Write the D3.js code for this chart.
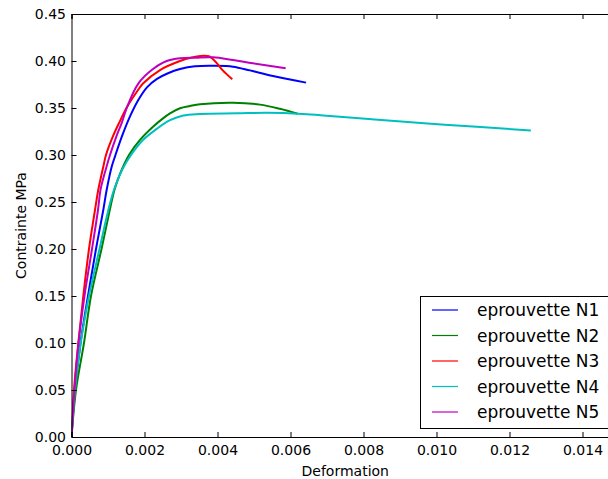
<!DOCTYPE html>
<html><head><meta charset="utf-8">
<script src="https://cdn.jsdelivr.net/npm/d3@7"></script>
<style>body{margin:0;background:#fff}svg{display:block}text{font-family:"DejaVu Sans",sans-serif}</style>
</head><body>
<svg id="c" width="608" height="479"></svg>
<script>
const seriesNames = ["eprouvette N1","eprouvette N2","eprouvette N3","eprouvette N4","eprouvette N5"];
const seriesColors = ["#0000ff","#008000","#ff0000","#00bfbf","#bf00bf"];
const xTicks = [0,0.002,0.004,0.006,0.008,0.010,0.012,0.014];
const yTicks = [0,0.05,0.10,0.15,0.20,0.25,0.30,0.35,0.40,0.45];

const n1x = [0,0.000096,0.000247,0.000452,0.000671,0.000871,0.000964,0.001101,0.001205,0.001384,0.001603,0.00183,0.002068,0.002342,0.002644,0.002973,0.003384,0.003932,0.004425,0.00489,0.005521,0.006425];
const n1y = [0,0.05,0.10,0.15,0.20,0.2415,0.263,0.2875,0.30,0.32,0.341,0.3585,0.372,0.381,0.387,0.3915,0.3945,0.395,0.394,0.390,0.384,0.377];

const n2x = [0,0.000123,0.000342,0.000534,0.000822,0.001041,0.001178,0.001329,0.001575,0.001877,0.002233,0.002507,0.002699,0.002973,0.003247,0.003521,0.004425,0.005164,0.005712,0.006197];
const n2y = [0,0.05,0.10,0.15,0.20,0.24,0.263,0.28,0.30,0.316,0.330,0.339,0.3443,0.3497,0.3521,0.354,0.3556,0.3536,0.3491,0.3438];

const n3x = [0,0.0000685,0.000186,0.000323,0.000479,0.000644,0.000734,0.000871,0.000945,0.001137,0.001315,0.001521,0.001786,0.001959,0.002425,0.002973,0.003301,0.003603,0.003767,0.003849,0.003986,0.004151,0.004405];
const n3y = [0,0.05,0.10,0.15,0.20,0.2415,0.263,0.2875,0.30,0.32,0.335,0.351,0.367,0.376,0.3904,0.40,0.4037,0.4056,0.4050,0.4029,0.3975,0.3897,0.3805];

const n4x = [0,0.000096,0.000252,0.000479,0.000767,0.001,0.001164,0.001384,0.00163,0.001959,0.002342,0.002699,0.003063,0.003521,0.004534,0.005356,0.006342,0.007082,0.008397,0.009753,0.011101,0.012584];
const n4y = [0,0.05,0.10,0.15,0.20,0.24,0.263,0.284,0.30,0.316,0.328,0.337,0.342,0.3436,0.3443,0.3449,0.3436,0.3415,0.3376,0.3335,0.330,0.326];

const n5x = [0,0.000082,0.000192,0.000356,0.000562,0.000726,0.000795,0.00096,0.001055,0.001233,0.001384,0.001521,0.00183,0.002197,0.002608,0.002973,0.003384,0.003877,0.004425,0.004973,0.005868];
const n5y = [0,0.05,0.10,0.15,0.20,0.2415,0.263,0.2875,0.30,0.32,0.335,0.351,0.376,0.3904,0.40,0.403,0.4035,0.4039,0.401,0.3975,0.3922];

const allX = [n1x,n2x,n3x,n4x,n5x];
const allY = [n1y,n2y,n3y,n4y,n5y];

const L = 71.5, T = 14, R = 619, B = 437;
const svg = d3.select("#c");
const x = d3.scaleLinear().domain([0,0.015]).range([L,R]);
const y = d3.scaleLinear().domain([0,0.45]).range([B,T]);

svg.append("clipPath").attr("id","pc").append("rect").attr("x",L).attr("y",T).attr("width",R-L).attr("height",B-T);

const line = d3.line().x(d=>x(d[0])).y(d=>y(d[1])).curve(d3.curveCatmullRom.alpha(0.5));
const g = svg.append("g").attr("clip-path","url(#pc)");
allX.forEach((xs,i)=>{
  const pts = xs.map((v,j)=>[v,allY[i][j]]);
  g.append("path").attr("d",line(pts)).attr("fill","none").attr("stroke",seriesColors[i]).attr("stroke-width",2).attr("stroke-linejoin","round");
});

// axes
const fmtX = d3.format(".3f"), fmtY = d3.format(".2f");
const ax = svg.append("g").attr("transform",`translate(0,${B})`)
  .call(d3.axisBottom(x).tickValues(xTicks).tickFormat(fmtX).tickSize(-5).tickPadding(8));
const axTop = svg.append("g").attr("transform",`translate(0,${T})`)
  .call(d3.axisTop(x).tickValues(xTicks).tickFormat("").tickSize(-5));
const ay = svg.append("g").attr("transform",`translate(${L},0)`)
  .call(d3.axisLeft(y).tickValues(yTicks).tickFormat(fmtY).tickSize(-5).tickPadding(5.5));
[ax,axTop,ay].forEach(a=>{
  a.select(".domain").attr("stroke","#000").attr("stroke-width",1);
  a.selectAll("line").attr("stroke","#000");
  a.selectAll("text").attr("font-size",14).attr("fill","#000").attr("font-family","DejaVu Sans");
});
svg.append("line").attr("x1",R).attr("x2",R).attr("y1",T).attr("y2",B).attr("stroke","#000");

svg.append("text").attr("x",(L+R)/2).attr("y",476).attr("text-anchor","middle").attr("font-size",14).text("Deformation");
svg.append("text").attr("transform",`translate(26,${(T+B)/2}) rotate(-90)`).attr("text-anchor","middle").attr("font-size",14).text("Contrainte MPa");

// legend
const lg = svg.append("g");
lg.append("rect").attr("x",420.5).attr("y",296.5).attr("width",200).attr("height",132).attr("fill","#fff").attr("stroke","#000");
seriesNames.forEach((nm,i)=>{
  const yy = 310 + i*25.5;
  lg.append("line").attr("x1",432).attr("x2",458).attr("y1",yy).attr("y2",yy).attr("stroke",seriesColors[i]).attr("stroke-width",1.2);
  lg.append("text").attr("x",477).attr("y",yy).attr("dy","0.36em").attr("font-size",17).text(nm);
});
</script>
</body></html>
